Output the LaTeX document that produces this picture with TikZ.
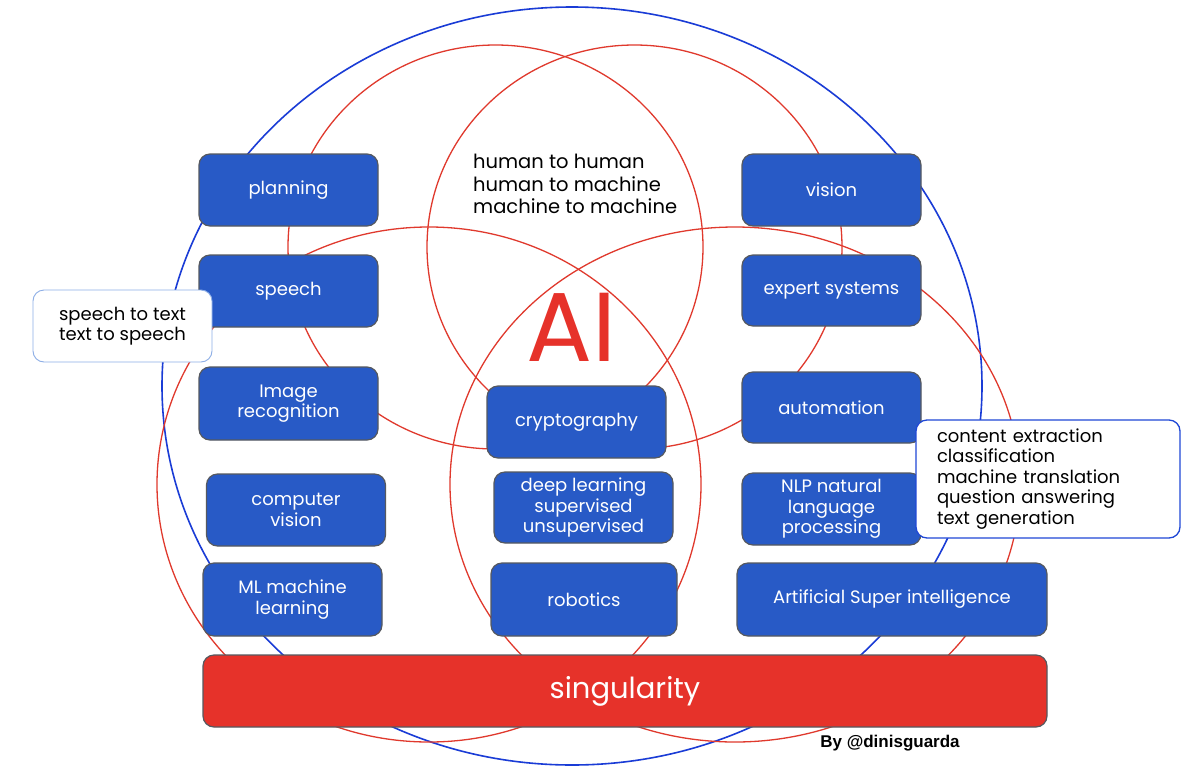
\documentclass[tikz,border=0pt]{standalone}
\usepackage{fontspec}
\setmainfont{Poppins}
\newfontfamily\byfont{Liberation Sans}
\definecolor{boxblue}{HTML}{285AC6}
\definecolor{boxedge}{HTML}{56595F}
\definecolor{singred}{HTML}{E6322A}
\definecolor{circred}{HTML}{E0392D}
\definecolor{circblue}{HTML}{1A3CD6}
\definecolor{notelight}{HTML}{8DAEE6}
\definecolor{notedark}{HTML}{2048D6}
\begin{document}
\begin{tikzpicture}[x=1pt,y=-1pt,
  redc/.style={draw=circred, line width=1.3pt},
  bluec/.style={draw=circblue, line width=1.6pt},
  bluebox/.style={draw=boxedge, line width=1.2pt, fill=boxblue, rounded corners=11pt,
    text=white, align=center, inner sep=0pt, minimum width=179pt, minimum height=72pt,
    font=\fontsize{18}{20.5}\selectfont},
  notebox/.style={fill=white, rounded corners=11pt, align=left, inner sep=0pt,
    text=black, font=\fontsize{18}{20.5}\selectfont}
]
\useasboundingbox (0,0) rectangle (1200,777);
\fill[white] (0,0) rectangle (1200,777);

% circles
\draw[bluec] (572,386) ellipse [x radius=410, y radius=379];
\draw[redc] (495.5,247) ellipse [x radius=207.5, y radius=202];
\draw[redc] (634.5,247) ellipse [x radius=207.5, y radius=202];
\draw[redc] (429,484.5) ellipse [x radius=272, y radius=257.5];
\draw[redc] (735,484.5) ellipse [x radius=285, y radius=257.5];

% left column
\node[bluebox] (planning) at (288.5,190) {planning};
\node[bluebox] (speech) at (288.5,291) {speech};
\node[bluebox, minimum height=73pt] (imgrec) at (288.5,403.5) {Image\\recognition};
\node[bluebox] (compvis) at (296,510) {computer\\vision};
\node[bluebox, minimum height=73pt] (ml) at (292.5,599.5) {ML machine\\learning};

% middle column
\node[bluebox] (crypto) at (576.5,422) {cryptography};
\node[bluebox, minimum height=71pt] (deep) at (583.5,507.5) {deep learning\\supervised\\unsupervised};
\node[bluebox, minimum width=186pt, minimum height=73pt] (robot) at (584,599.5) {robotics};

% right column
\node[bluebox] (vision) at (831.5,190) {vision};
\node[bluebox, minimum height=71pt] (expert) at (831.5,290.5) {expert systems};
\node[bluebox, minimum height=71pt] (autom) at (831.5,407.5) {automation};
\node[bluebox] (nlp) at (831.5,509) {NLP natural\\language\\processing};
\node[bluebox, minimum width=310pt, minimum height=73pt] (asi) at (892,599.5) {Artificial Super intelligence};

% singularity
\node[bluebox, fill=singred, minimum width=844pt, minimum height=72pt,
  font=\fontsize{29}{34}\selectfont] (sing) at (625,691) {singularity};

% notes
\node[notebox, draw=notelight, line width=0.9pt, minimum width=179pt, minimum height=72pt]
  (stt) at (122.5,326) {speech to text\\text to speech};
\node[notebox, draw=notedark, line width=1.3pt, minimum width=264pt, minimum height=118pt,
  text width=222pt] (content) at (1048,479) {content extraction\\classification\\machine translation\\question answering\\text generation};

% central texts
\node[anchor=north west, align=left, inner sep=0pt, font=\fontsize{19.5}{22.5}\selectfont]
  (human) at (473,154) {human to human\\human to machine\\machine to machine};
\node[text=singred, inner sep=0pt, font=\fontsize{98}{100}\selectfont] (ai) at (572,327) {AI};
\node[inner sep=0pt, font=\byfont\bfseries\fontsize{17}{19}\selectfont] (by) at (890,743) {By @dinisguarda};
\end{tikzpicture}
\end{document}
